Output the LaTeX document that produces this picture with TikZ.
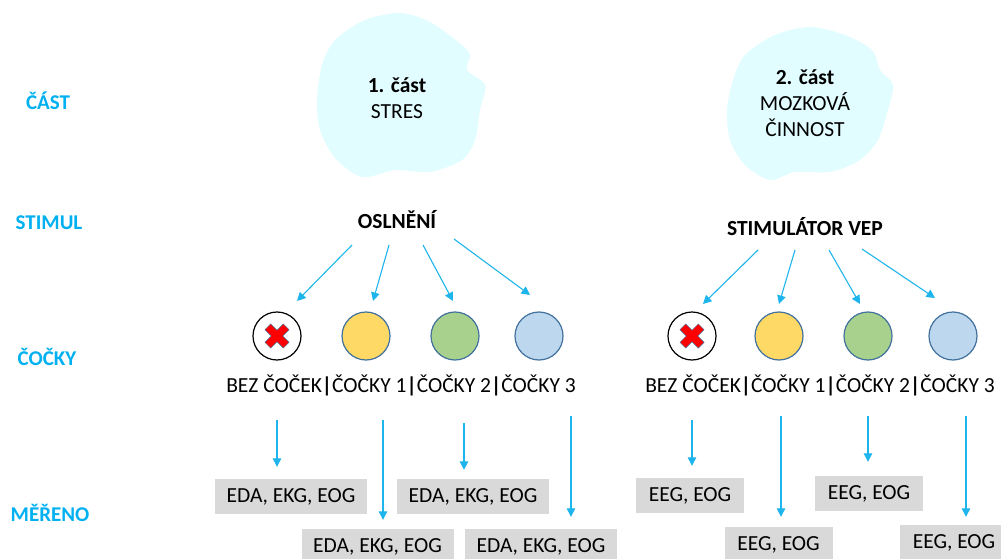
\documentclass[tikz,border=0pt]{standalone}
\usepackage{fontspec}
\setmainfont{Carlito}
\usetikzlibrary{arrows.meta}

\definecolor{headcyan}{RGB}{0,176,240}
\definecolor{arrowcyan}{RGB}{30,180,236}
\definecolor{cloudcyan}{RGB}{225,253,255}
\definecolor{lensyellow}{RGB}{255,217,102}
\definecolor{lensgreen}{RGB}{169,209,142}
\definecolor{lensblue}{RGB}{189,215,238}
\definecolor{lensedge}{RGB}{65,113,156}
\definecolor{boxgray}{RGB}{217,217,217}

\tikzset{
  rowlabel/.style={text=headcyan, font=\bfseries\fontsize{21}{25}\selectfont},
  txt/.style={font=\fontsize{21.5}{26}\selectfont, align=center},
  lens/.style={circle, draw=lensedge, line width=1.2pt, minimum size=48pt, inner sep=0pt},
  meas/.style={fill=boxgray, font=\fontsize{21.5}{26}\selectfont, minimum height=35pt, inner sep=0pt},
  arr/.style={-{Triangle[length=8.5pt,width=8.5pt]}, arrowcyan, line width=1.1pt},
}

\begin{document}
\begin{tikzpicture}[x=1pt,y=-1pt]
\useasboundingbox (0,0) rectangle (1001,559);
\clip (0,0) rectangle (1001,559);

% row labels
\node[rowlabel] (lcast) at (48,101) {ČÁST};
\node[rowlabel] (lstim) at (49,223) {STIMUL};
\node[rowlabel] (lcoc) at (47,357) {ČOČKY};
\node[rowlabel] (lmer) at (50,513) {MĚŘENO};

% clouds
\fill[cloudcyan] plot[smooth cycle] coordinates {(335,40) (365,20) (400,13) (430,22) (462,45) (470,55) (467,70) (485,85) (480,110) (475,140) (462,160) (430,172) (395,170) (362,177) (335,158) (320,130) (317,100) (322,65)};
\fill[cloudcyan] plot[smooth cycle] coordinates {(745,55) (775,35) (810,27) (845,35) (872,50) (880,70) (893,85) (888,110) (878,140) (860,160) (830,172) (795,172) (770,180) (745,165) (730,140) (727,110) (733,80)};
\node[txt] (cast1) at (397,98) {\textbf{1. část}\\STRES};
\node[txt] (cast2) at (805,103) {\textbf{2. část}\\MOZKOVÁ\\ČINNOST};

% stimuli
\node[txt, font=\bfseries\fontsize{21.5}{26}\selectfont] (osl) at (397,220) {OSLNĚNÍ};
\node[txt, font=\bfseries\fontsize{21.5}{26}\selectfont] (vep) at (805,227) {STIMULÁTOR VEP};

% lenses
\node[lens, draw=black, fill=white] (l1) at (277,336) {};
\node[lens, fill=lensyellow] (l2) at (366,336) {};
\node[lens, fill=lensgreen] (l3) at (455,336) {};
\node[lens, fill=lensblue] (l4) at (539,336) {};
\node[lens, draw=black, fill=white] (r1) at (692,336) {};
\node[lens, fill=lensyellow] (r2) at (779,336) {};
\node[lens, fill=lensgreen] (r3) at (868,336) {};
\node[lens, fill=lensblue] (r4) at (953,336) {};
\foreach \c in {l1,r1}
  \filldraw[red, draw=lensedge, line width=0.5pt, shift={(\c)}, rotate=45]
    (4,4) -- (13,4) -- (13,-4) -- (4,-4) -- (4,-13) -- (-4,-13) -- (-4,-4) -- (-13,-4)
    -- (-13,4) -- (-4,4) -- (-4,13) -- (4,13) -- cycle;

% stimulus -> lens arrows
\foreach \t/\sx/\sy/\ex/\ey [count=\i] in {l1/-45/25/20/-35, l2/-8/25/7/-35, l3/26/25/-2/-35, l4/57/19/-9/-41}{
  \coordinate (os\i) at ([shift={(\sx,\sy)}]osl.center);
  \coordinate (oe\i) at ([shift={(\ex,\ey)}]\t.center);
  \draw[arr] (os\i) -- (oe\i);
}
\foreach \t/\sx/\sy/\ex/\ey [count=\i] in {r1/-47/23/11/-32, r2/-10/23/0/-32, r3/24/23/-8/-32, r4/57/22/-18/-38}{
  \coordinate (vs\i) at ([shift={(\sx,\sy)}]vep.center);
  \coordinate (ve\i) at ([shift={(\ex,\ey)}]\t.center);
  \draw[arr] (vs\i) -- (ve\i);
}

\node[txt] (lrow) at (401,385) {BEZ ČOČEK\textbf{|}ČOČKY 1\textbf{|}ČOČKY 2\textbf{|}ČOČKY 3};
\node[txt] (rrow) at (820,385) {BEZ ČOČEK\textbf{|}ČOČKY 1\textbf{|}ČOČKY 2\textbf{|}ČOČKY 3};

% measured
\node[meas, minimum width=152pt] (m1) at (291,496.5) {EDA, EKG, EOG};
\node[meas, minimum width=152pt] (m2) at (377.5,546.5) {EDA, EKG, EOG};
\node[meas, minimum width=152pt] (m3) at (473,496.5) {EDA, EKG, EOG};
\node[meas, minimum width=152pt] (m4) at (541,546.5) {EDA, EKG, EOG};
\node[meas, minimum width=108pt] (n1) at (690,495.5) {EEG, EOG};
\node[meas, minimum width=108pt] (n2) at (778.5,544.5) {EEG, EOG};
\node[meas, minimum width=108pt] (n3) at (869,493.5) {EEG, EOG};
\node[meas, minimum width=108pt] (n4) at (954,542.5) {EEG, EOG};

\coordinate (v1) at (277,420);
\coordinate (v2) at (383,420);
\coordinate (v3) at (464,423);
\coordinate (v4) at (571,416);
\coordinate (w1) at (692,420);
\coordinate (w2) at (781,416);
\coordinate (w3) at (868,416);
\coordinate (w4) at (966,416);
\foreach \s/\e/\d in {v1/m1/12, v2/m2/9, v3/m3/9, v4/m4/12, w1/n1/12, w2/n2/10, w3/n3/14, w4/n4/8}
  \draw[arr, shorten >=\d pt] (\s) -- (\s |- \e.north);

\end{tikzpicture}
\end{document}
